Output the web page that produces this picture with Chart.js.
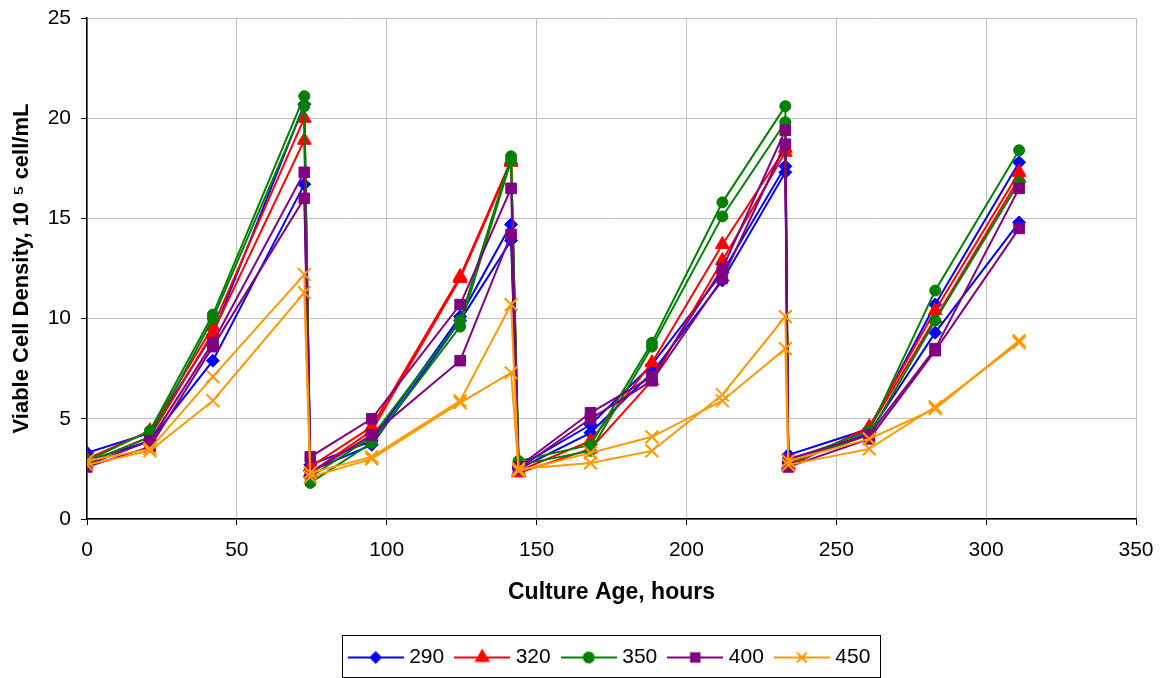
<!DOCTYPE html>
<html>
<head>
<meta charset="utf-8">
<title>Viable cell density</title>
<script src="https://cdn.jsdelivr.net/npm/chart.js@4.4.1/dist/chart.umd.min.js"></script>
<style>
  html, body { margin: 0; padding: 0; background: #fff; }
</style>
</head>
<body>
<canvas id="myChart" width="1162" height="678"></canvas>
<script>
// Sampling times (hours) shared by every run
const hours = [0, 21, 42, 72.5, 74.5, 95, 124.5, 141.5, 144, 168, 188.5, 212, 233, 234, 261, 283, 311];

// Two replicate runs per setting, viable cells in 10^5 cell/mL
const vcd290a = [3.3, 4.3, 9.2, 20.7, 2.7, 3.9, 10.1, 14.7, 2.6, 4.7, 7.7, 12.3, 17.6, 3.2, 4.5, 10.7, 17.8];
const vcd290b = [2.9, 3.9, 7.9, 16.7, 2.4, 3.7, 9.9, 13.9, 2.5, 4.3, 7.3, 11.9, 17.3, 2.8, 4.3, 9.3, 14.8];
const vcd320a = [3.0, 4.4, 9.6, 20.0, 2.6, 4.6, 12.1, 17.9, 2.4, 3.9, 7.8, 13.7, 18.5, 2.6, 4.6, 10.4, 17.3];
const vcd320b = [2.8, 4.1, 9.3, 18.9, 2.3, 4.4, 12.0, 17.8, 2.3, 3.5, 6.9, 12.9, 18.3, 2.7, 4.5, 10.0, 17.0];
const vcd350a = [2.9, 4.4, 10.2, 21.1, 2.1, 4.1, 9.9, 18.1, 2.9, 3.7, 8.8, 15.8, 20.6, 2.9, 4.4, 11.4, 18.4];
const vcd350b = [2.8, 4.1, 10.0, 20.6, 1.8, 3.8, 9.6, 17.9, 2.7, 3.4, 8.6, 15.1, 19.8, 2.8, 4.2, 9.9, 16.8];
const vcd400a = [2.7, 3.9, 8.8, 17.3, 3.1, 5.0, 10.7, 16.5, 2.6, 5.3, 7.1, 12.5, 19.4, 3.0, 4.2, 8.5, 16.5];
const vcd400b = [2.6, 3.6, 8.6, 16.0, 2.3, 4.2, 7.9, 14.2, 2.5, 5.0, 6.9, 12.0, 18.7, 2.6, 4.0, 8.4, 14.5];
const vcd450a = [2.9, 3.5, 7.1, 12.2, 2.3, 3.1, 5.9, 10.7, 2.5, 2.8, 3.4, 6.2, 10.1, 2.9, 4.0, 5.5, 8.9];
const vcd450b = [2.7, 3.4, 5.9, 11.3, 2.1, 3.0, 5.8, 7.3, 2.4, 3.3, 4.1, 5.9, 8.5, 2.7, 3.5, 5.6, 8.8];

const seriesNames = ['290', '320', '350', '400', '450'];
const seriesRuns = [[vcd290a, vcd290b], [vcd320a, vcd320b], [vcd350a, vcd350b], [vcd400a, vcd400b], [vcd450a, vcd450b]];

const colors = ['#0000ff', '#ff0000', '#008000', '#800080', '#ff9900'];
const markers = ['rectRot', 'triangle', 'circle', 'rect', 'crossRot'];
const markerSize = [6.5, 8, 5.5, 7.5, 9];
const legendMarkerSize = [5, 7, 5, 6, 7];

Chart.defaults.font.family = 'Arial, "Liberation Sans", sans-serif';
Chart.defaults.color = '#000';

// little line-with-marker image used as the legend symbol
const legendSymbol = (i) => {
  const c = document.createElement('canvas');
  c.width = 56;
  c.height = 20;
  const g = c.getContext('2d');
  g.strokeStyle = colors[i];
  g.fillStyle = colors[i];
  g.lineWidth = 2;
  g.beginPath();
  g.moveTo(0, 10);
  g.lineTo(56, 10);
  g.stroke();
  if (Chart.helpers && Chart.helpers.drawPoint) {
    Chart.helpers.drawPoint(g, {pointStyle: markers[i], radius: legendMarkerSize[i], borderWidth: 2, rotation: 0}, 28, 10);
  }
  return c;
};
const legendSymbols = seriesNames.map((n, i) => legendSymbol(i));

const datasets = [];
seriesRuns.forEach((runs, s) => {
  runs.forEach((vals, r) => {
    const idx = datasets.length;
    datasets.push({
      label: seriesNames[s],
      series: s,
      replicate: r,
      data: hours.map((h, k) => ({x: h, y: vals[k]})),
      borderColor: colors[s],
      backgroundColor: colors[s],
      borderWidth: 2,
      pointStyle: markers[s],
      pointRadius: markerSize[s],
      pointBorderWidth: s === 4 ? 2 : 1,
      pointBackgroundColor: colors[s],
      pointBorderColor: colors[s],
      tension: 0,
      order: 20 - idx
    });
  });
});

// centre the legend under the plot and put a frame round it
const legendFrame = {
  id: 'legendFrame',
  afterLayout(chart) {
    chart.legend.left = chart.chartArea.left;
    chart.legend.right = chart.chartArea.right;
  },
  afterDraw(chart) {
    const boxes = chart.legend.legendHitBoxes;
    if (!boxes || !boxes.length) return;
    const first = boxes[0];
    const last = boxes[boxes.length - 1];
    const c = chart.ctx;
    c.save();
    c.strokeStyle = '#000';
    c.lineWidth = 1;
    const x0 = Math.round(first.left - 11) + 0.5;
    const x1 = Math.round(last.left + last.width + 10) + 0.5;
    const y0 = Math.round(first.top - 12) + 0.5;
    const y1 = chart.height - 0.5;
    c.strokeRect(x0, y0, x1 - x0, y1 - y0);
    c.restore();
  }
};

const myChart = new Chart(document.getElementById('myChart').getContext('2d'), {
  type: 'line',
  data: {datasets: datasets},
  options: {
    responsive: false,
    animation: false,
    layout: {padding: {top: 0, right: 26, left: 0, bottom: 0}},
    scales: {
      x: {
        type: 'linear',
        min: 0,
        max: 350,
        // tall line height pushes the labels down without widening the right margin
        ticks: {stepSize: 50, padding: 8, font: {size: 21, lineHeight: '34px'}, color: '#000'},
        grid: {color: '#c0c0c0', tickColor: '#000', tickLength: 6},
        border: {color: '#000', width: 1.5},
        title: {
          display: true,
          text: 'Culture Age, hours',
          font: {size: 23, weight: 'bold'},
          color: '#000',
          padding: {top: 0, bottom: 26}
        },
        afterFit: (scale) => { scale.height = 113; }
      },
      y: {
        min: 0,
        max: 25,
        ticks: {stepSize: 5, padding: 10, font: {size: 21, lineHeight: '16px'}, color: '#000'},
        grid: {color: '#c0c0c0', tickColor: '#000', tickLength: 6},
        border: {color: '#000', width: 1.5},
        title: {
          display: true,
          text: 'Viable Cell Density, 10 \u2075 cell/mL',
          font: {size: 22, weight: 'bold'},
          color: '#000',
          padding: {top: 9, bottom: 0}
        },
        afterFit: (scale) => { scale.width = 87; }
      }
    },
    plugins: {
      legend: {
        position: 'bottom',
        labels: {
          usePointStyle: true,
          pointStyleWidth: 46,
          padding: 15,
          font: {size: 21},
          color: '#000',
          filter: (item, data) => data.datasets[item.datasetIndex].replicate === 0,
          sort: (a, b) => a.datasetIndex - b.datasetIndex,
          generateLabels: (chart) => {
            const items = Chart.defaults.plugins.legend.labels.generateLabels(chart);
            items.forEach((it) => {
              it.pointStyle = legendSymbols[chart.data.datasets[it.datasetIndex].series];
            });
            return items;
          }
        }
      },
      tooltip: {enabled: false}
    }
  },
  plugins: [legendFrame]
});
</script>
</body>
</html>
